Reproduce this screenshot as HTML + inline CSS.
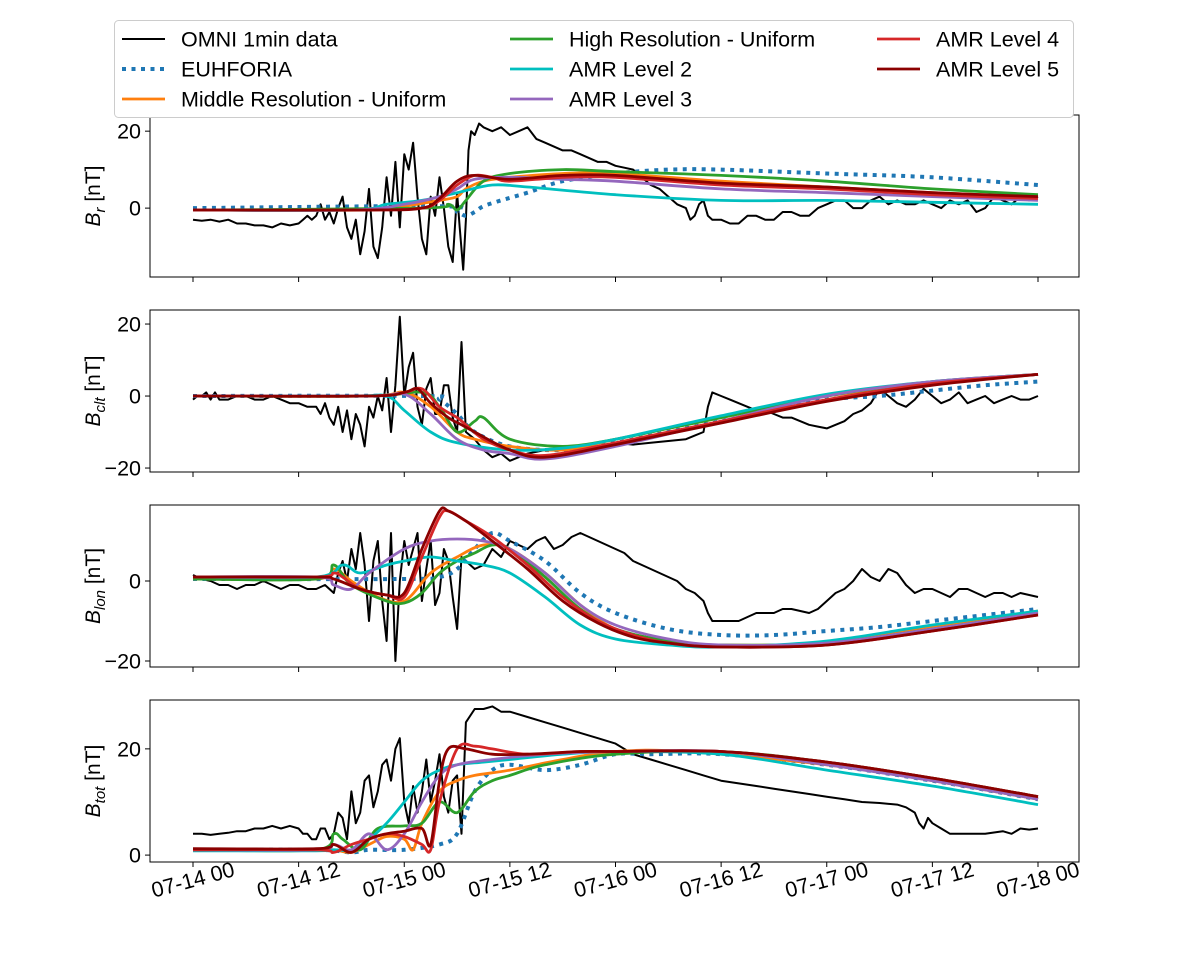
<!DOCTYPE html>
<html><head><meta charset="utf-8">
<style>
body{margin:0;background:#fff;}
svg{display:block;font-family:"Liberation Sans","DejaVu Sans",sans-serif;}
</style></head>
<body>
<svg id="chart" width="1200" height="969" viewBox="0 0 1200 969" xmlns="http://www.w3.org/2000/svg"></svg>
<script>
// ---- data (hours since 07-14 00, value nT) ----
const xTickLabels = ["07-14 00","07-14 12","07-15 00","07-15 12","07-16 00","07-16 12","07-17 00","07-17 12","07-18 00"];
const xTickHours = [0,12,24,36,48,60,72,84,96];
const seriesNames = ["OMNI 1min data","EUHFORIA","Middle Resolution - Uniform","High Resolution - Uniform","AMR Level 2","AMR Level 3","AMR Level 4","AMR Level 5"];

const br_omni=[[0,-3],[1,-3.3],[2,-3],[3,-3.5],[4,-3],[5,-4],[6,-4],[7,-4.5],[8,-4.5],[9,-5],[10,-4],[11,-4.5],[12,-4],[12.5,-3],[13,-2],[13.5,-3],[14,-2],[14.5,1],[15,-3],[15.5,-1],[16,-4],[16.5,0],[17,3],[17.5,-5],[18,-8],[18.5,-3],[19,-12],[19.5,-6],[20,5],[20.5,-10],[21,-13],[21.5,-5],[22,8],[22.5,-2],[23,12],[23.5,-5],[24,14],[24.5,10],[25,17],[25.5,3],[26,-8],[26.5,-12],[27,3],[27.5,-2],[28,8],[28.5,0],[29,-10],[29.5,-14],[30,4],[30.3,-5],[30.7,-16],[31,-3],[31.3,15],[31.6,20],[32,19],[32.5,22],[33,21],[34,20],[35,21],[36,19],[37,20],[38,21],[39,18],[40,17],[41,16],[42,15],[43,15],[44,14],[45,13],[46,12],[47,12],[48,11],[49,10.5],[50,10],[51,8],[52,6],[53,5],[54,3],[55,1],[56,0],[56.5,-3],[57,-2],[57.5,1],[58,2],[58.5,-2],[59,-3],[60,-3],[61,-4],[62,-4],[63,-2],[64,-2],[65,-3],[66,-3],[67,-1],[68,-1],[69,-2],[70,-2],[71,0],[72,1],[73,2],[74,2],[75,0],[76,0],[77,2],[78,3],[79,1],[80,2],[81,1],[82,1],[83,2],[84,1],[85,0],[86,2],[87,1],[88,2],[89,-1],[90,0],[91,3],[92,2],[93,1],[94,3],[95,2],[96,3]];
const br_euh=[[0,0],[28,0.5],[30,-1],[31,-2],[32,-1],[33,0.5],[35,2],[38,4],[42,7],[48,9],[54,10],[60,10],[72,9],[84,8],[96,6]];
const br_mid=[[0,-0.5],[20,-0.5],[24,0.5],[28,2],[30,3],[31,5],[33,7],[36,8],[42,9],[48,9],[60,7],[72,5.5],[84,4],[96,3]];
const br_high=[[0,-0.5],[26,0],[29,1],[30,-0.5],[31,2],[33,7],[36,9],[42,10],[48,9.5],[60,8.5],[72,7],[84,5],[96,3.5]];
const br_amr2=[[0,-0.5],[18,-0.5],[22,1],[26,2],[30,4],[34,6],[38,5.5],[48,3.5],[60,2],[72,2],[84,1.5],[96,1]];
const br_amr3=[[0,-0.5],[18,-0.5],[24,1],[28,3],[30,5],[32,7.5],[36,8],[42,7.5],[48,7],[60,5],[72,4],[84,3],[96,2]];
const br_amr4=[[0,-0.5],[20,-0.5],[26,0],[28,2],[30,6],[32,8.5],[34,8],[36,7],[42,8],[48,8],[60,6],[72,5],[84,3.5],[96,2.5]];
const br_amr5=[[0,-0.5],[20,-0.5],[26,0],[28,2.5],[30,7],[32,8.5],[36,7.5],[42,8.5],[48,8.5],[60,6.5],[72,5.5],[84,4],[96,3]];

const bc_omni=[[0,-1],[0.5,0],[1,0],[1.5,1],[2,-1],[2.5,1],[3,-1],[4,-1],[5,0],[6,0],[7,-1],[8,-1],[9,0],[10,-1],[11,-2],[12,-2],[13,-3],[14,-3],[14.5,-5],[15,-2],[15.5,-6],[16,-8],[16.5,-3],[17,-10],[17.5,-4],[18,-12],[18.5,-5],[19,-8],[19.5,-14],[20,-3],[20.5,-6],[21,0],[21.5,-4],[22,5],[22.5,-10],[23,3],[23.5,22],[24,0],[24.5,8],[25,12],[25.5,-3],[26,-8],[26.5,2],[27,5],[27.5,-5],[28,-5],[28.5,3],[29,3],[29.5,-6],[30,-10],[30.5,15],[31,-10],[32,-12],[33,-15],[34,-17],[35,-16],[36,-18],[37,-17],[38,-16],[40,-15],[42,-15],[44,-14],[46,-14],[48,-13],[50,-13.5],[52,-13],[54,-12.5],[56,-12],[57,-11],[58,-10],[58.5,-3],[59,1],[60,0],[61,-1],[62,-2],[63,-3],[64,-4],[65,-4],[66,-5],[67,-6],[68,-6],[69,-7],[70,-8],[71,-8.5],[72,-9],[73,-8],[74,-7],[75,-5],[76,-4],[77,-2],[78,2],[79,0],[80,-2],[81,-3],[82,-1],[83,2],[84,0],[85,-2],[86,-1],[87,1],[88,-2],[89,-1],[90,0],[91,-2],[92,-1],[93,0],[94,-1],[95,-1],[96,0]];
const bc_euh=[[0,0],[26,0],[28,-1],[30,-5],[32,-10],[36,-14],[42,-15],[48,-13],[54,-10],[60,-7],[66,-4],[72,-1],[78,0],[84,1.5],[90,3],[96,4]];
const bc_mid=[[0,0],[20,0],[24,1],[27,-3],[30,-10],[32,-12],[36,-14],[42,-15],[48,-12],[54,-9],[60,-6],[66,-3],[72,0],[84,3.5],[96,6]];
const bc_high=[[0,0],[20,0],[26,1],[28,-3],[30,-10],[32,-7],[33,-6],[36,-12],[42,-14],[48,-12],[54,-9],[60,-6],[72,0],[84,4],[96,6]];
const bc_amr2=[[0,0],[18,0],[22,0],[24,-4],[27,-10],[30,-13],[36,-15],[42,-14.5],[48,-12],[60,-5.5],[72,0.5],[84,4],[96,6]];
const bc_amr3=[[0,0],[20,0],[24,0.5],[27,-5],[30,-12],[33,-15],[36,-16],[40,-17.5],[48,-14],[60,-7],[72,0],[84,4],[96,6]];
const bc_amr4=[[0,0],[20,0],[24,1],[26,2],[28,-3],[30,-6],[31,-8],[33,-12],[36,-15],[40,-16.5],[48,-13],[60,-7],[72,-1],[84,3.5],[96,6]];
const bc_amr5=[[0,0],[20,0],[24,1],[25.5,2],[27,-2],[29,-6],[30.5,-8],[32,-10],[36,-15],[40,-17],[48,-13.5],[60,-7.5],[72,-1.5],[84,3],[96,6]];

const bl_omni=[[0,1.5],[1,0.5],[2,0],[3,-1],[4,-1],[5,-2],[6,-1],[7,-1],[8,0],[9,-1],[10,-2],[11,-1],[12,-1],[13,-2],[14,-2],[15,-1],[16,-3],[16.5,2],[17,5],[17.5,0],[18,8],[18.5,3],[19,12],[19.5,4],[20,-10],[20.5,5],[21,10],[21.5,-5],[22,-15],[22.5,12],[23,-20],[23.5,0],[24,10],[24.5,4],[25,8],[25.5,12],[26,-5],[26.5,3],[27,10],[27.5,-6],[28,-3],[28.5,8],[29,5],[29.5,-4],[30,-12],[30.5,6],[31,5],[32,3],[33,4],[34,8],[35,6],[36,10],[37,9],[38,8],[39,10],[40,11],[41,8],[42,9],[43,11],[44,12],[45,11],[46,10],[47,9],[48,8],[49,7],[50,5],[51,4],[52,3],[53,2],[54,1],[55,0],[56,-2],[57,-3],[58,-5],[58.5,-8],[59,-10],[60,-10],[61,-10],[62,-10],[63,-9],[64,-8],[65,-8],[66,-8],[67,-7],[68,-7],[69,-7.5],[70,-8],[71,-7],[72,-5],[73,-3],[74,-2],[75,0],[76,3],[77,1],[78,0],[79,3],[80,2],[81,-1],[82,-3],[83,-2],[84,-2],[85,-3],[86,-4],[87,-2],[88,-2],[89,-3],[90,-4],[91,-3],[92,-3],[93,-4],[94,-3],[95,-3.5],[96,-4]];
const bl_euh=[[0,0.5],[24,0.5],[28,1],[30,3],[32,8],[34,12],[36,10],[40,5],[44,-3],[48,-8],[54,-12],[60,-13.5],[66,-13.5],[72,-12.5],[78,-11.5],[84,-10],[90,-8.5],[96,-7]];
const bl_mid=[[0,0.5],[14,0.5],[16,3],[18,0],[21,-4],[24,-5],[27,2],[30,6],[33,9],[36,8],[40,2],[44,-6],[48,-12],[54,-15],[60,-16],[72,-15.5],[84,-11.5],[96,-7.5]];
const bl_high=[[0,0.5],[14,0.5],[16,4],[18,-1],[22,-5],[24,-5.5],[26,-3],[28,2],[30,5],[32,7],[34,9],[36,8],[40,1],[44,-7],[48,-12],[54,-15],[60,-16],[72,-15.5],[84,-12],[96,-8]];
const bl_amr2=[[0,1],[14,1],[17,4],[19,2],[22,4],[24,5],[27,6],[30,5],[33,4],[36,2],[40,-4],[44,-11],[48,-14.5],[54,-16],[60,-16.5],[72,-15],[84,-11],[96,-7.5]];
const bl_amr3=[[0,1],[14,1],[16,-1],[18,-2],[20,2],[24,8],[27,10],[30,10.5],[33,10],[36,8],[40,2],[44,-6],[48,-11],[54,-14.5],[60,-16],[72,-15.5],[84,-12],[96,-8]];
const bl_amr4=[[0,1],[14,1],[16,2],[17,1],[19,-2],[22,-3.5],[24,-4],[26,6],[28,16],[29,17.5],[31,15],[34,11],[38,4],[42,-4],[46,-10],[50,-13.5],[54,-15.5],[60,-16.5],[72,-16],[84,-12.5],[96,-8.5]];
const bl_amr5=[[0,1],[14,1],[16,0.5],[19,-2],[22,-3.5],[24,-3],[26,8],[28,17.5],[29,17.5],[31,15],[34,10],[38,3],[42,-5],[46,-10.5],[50,-14],[54,-15.5],[60,-16.5],[72,-16],[84,-12.5],[96,-8.5]];

const bt_omni=[[0,4],[1,4],[2,3.8],[3,4],[4,4.2],[5,4.5],[6,4.5],[7,5],[8,5],[9,5.5],[10,5],[11,5.5],[12,5],[12.5,4],[13,4],[13.5,3],[14,3],[14.5,5],[15,5],[15.5,3],[16,4],[16.5,8],[17,7],[17.5,3],[18,12],[18.5,6],[19,8],[19.5,14],[20,15],[20.5,9],[21,12],[21.5,17],[22,18],[22.5,14],[23,20],[23.5,22],[24,10],[24.5,6],[25,13],[25.5,8],[26,12],[26.5,18],[27,10],[27.5,14],[28,19],[28.5,11],[29,8],[29.5,14],[30,15],[30.5,4],[31,25],[32,27.5],[33,27.5],[34,28],[35,27],[36,27],[38,26],[40,25],[42,24],[44,23],[46,22],[48,21],[50,19],[52,18],[54,17],[56,16],[58,15],[60,14],[62,13.5],[64,13],[66,12.5],[68,12],[70,11.5],[72,11],[74,10.5],[76,10],[78,9.8],[80,9.5],[81,9],[82,8],[82.5,6],[83,5],[83.5,7],[84,6],[85,5],[86,4],[87,4],[88,4],[90,4],[92,4.5],[93,4],[94,5],[95,4.8],[96,5]];
const bt_euh=[[0,1],[14,1],[18,0.5],[20,1],[24,1],[28,2],[30,4],[32,12],[34,16],[36,17],[40,16],[44,17],[48,19],[52,19],[60,19],[72,17],[84,14],[96,10.5]];
const bt_mid=[[0,1],[14,1],[16,1],[18,0.5],[20,2],[22,3.5],[24,3],[25,1],[26,6],[28,12],[30,14],[32,15],[36,16],[42,18],[48,19.5],[56,19.5],[72,17],[84,14],[96,10.5]];
const bt_high=[[0,1],[14,1],[16,4],[17,3],[19,1],[21,5],[24,5.5],[26,6],[28,10],[30,8],[32,12],[34,14],[36,15],[40,17],[48,19],[60,19.5],[72,17.5],[84,14.5],[96,11]];
const bt_amr2=[[0,0.8],[14,0.8],[16,1],[18,1],[20,3],[22,6],[24,10],[26,14],[28,16],[30,17],[33,17.5],[36,18],[42,19],[48,19.5],[60,19],[72,16],[84,13],[96,9.5]];
const bt_amr3=[[0,1],[14,1],[16,2],[18,1],[20,4],[22,1],[24,4],[26,10],[28,15],[30,17],[34,18],[40,19],[48,19.5],[60,19.5],[72,17],[84,14],[96,10.5]];
const bt_amr4=[[0,1],[14,1],[16,0.5],[18,2],[20,3],[22,4],[24,3.5],[26,2],[27,1],[28,10],[30,20],[32,20.5],[34,20],[38,19],[44,19.5],[48,19.5],[60,19.5],[72,17.5],[84,14.5],[96,11]];
const bt_amr5=[[0,1.2],[14,1.2],[16,2],[18,0.5],[20,3],[22,4],[24,4.5],[26,5],[27,2],[28,14],[29,20],[31,20],[34,19],[38,19],[44,19.5],[48,19.5],[60,19.5],[72,17.5],[84,14.5],[96,11]];

// ---- layout ----
const NS="http://www.w3.org/2000/svg";
const svg=document.getElementById('chart');
const X0=150,X1=1079;
function xs(h){return 193+h*(1038-193)/96;}
const panels=[
 {name:'br',top:115,bot:277,vmin:-17.9,vmax:24.2,ticks:[0,20],label:'B',sub:'r',series:[br_omni,br_euh,br_mid,br_high,br_amr2,br_amr3,br_amr4,br_amr5]},
 {name:'bclt',top:310,bot:472,vmin:-21.1,vmax:23.9,ticks:[-20,0,20],label:'B',sub:'clt',series:[bc_omni,bc_euh,bc_mid,bc_high,bc_amr2,bc_amr3,bc_amr4,bc_amr5]},
 {name:'blon',top:505,bot:667,vmin:-21.5,vmax:19,ticks:[-20,0],label:'B',sub:'lon',series:[bl_omni,bl_euh,bl_mid,bl_high,bl_amr2,bl_amr3,bl_amr4,bl_amr5]},
 {name:'btot',top:700,bot:862,vmin:-1.3,vmax:29.2,ticks:[0,20],label:'B',sub:'tot',series:[bt_omni,bt_euh,bt_mid,bt_high,bt_amr2,bt_amr3,bt_amr4,bt_amr5]}
];
const styles=[
 {c:'#000000',w:2,d:null,k:'omni'},
 {c:'#1f77b4',w:4,d:'4,5.5',k:'euhforia'},
 {c:'#ff7f0e',w:2.8,d:null,k:'middle-res'},
 {c:'#2ca02c',w:2.8,d:null,k:'high-res'},
 {c:'#00bfbf',w:2.8,d:null,k:'amr-level-2'},
 {c:'#9467bd',w:2.8,d:null,k:'amr-level-3'},
 {c:'#d62728',w:2.8,d:null,k:'amr-level-4'},
 {c:'#8b0000',w:2.8,d:null,k:'amr-level-5'}
];
function el(t,a,p){const e=document.createElementNS(NS,t);for(const k in a)e.setAttribute(k,a[k]);(p||svg).appendChild(e);return e;}
function smoothPath(pts){
 let d='M'+pts[0][0].toFixed(1)+','+pts[0][1].toFixed(1);
 for(let i=0;i<pts.length-1;i++){
  const p0=pts[Math.max(0,i-1)],p1=pts[i],p2=pts[i+1],p3=pts[Math.min(pts.length-1,i+2)];
  const c1x=p1[0]+(p2[0]-p0[0])/6,c1y=p1[1]+(p2[1]-p0[1])/6;
  const c2x=p2[0]-(p3[0]-p1[0])/6,c2y=p2[1]-(p3[1]-p1[1])/6;
  d+=' C'+c1x.toFixed(1)+','+c1y.toFixed(1)+' '+c2x.toFixed(1)+','+c2y.toFixed(1)+' '+p2[0].toFixed(1)+','+p2[1].toFixed(1);
 }
 return d;
}
const defs=el('defs',{});
panels.forEach((p,pi)=>{
 const ys=v=>p.bot-(v-p.vmin)/(p.vmax-p.vmin)*(p.bot-p.top);
 const cp=el('clipPath',{id:'clip'+pi},defs);
 el('rect',{x:X0,y:p.top,width:X1-X0,height:p.bot-p.top},cp);
 const g=el('g',{});
 
 
 const lg=el('g',{'clip-path':'url(#clip'+pi+')'},g);
 p.series.forEach((s,si)=>{
  const st=styles[si];
  const pts=s.map(q=>[xs(q[0]),ys(q[1])]);
  const d=si===0?('M'+pts.map(q=>q[0].toFixed(1)+','+q[1].toFixed(1)).join(' L')):smoothPath(pts);
  const path=el('path',{d:d,fill:'none',stroke:st.c,'stroke-width':st.w,'stroke-linejoin':'round'},lg);
  if(st.d)path.setAttribute('stroke-dasharray',st.d);
  
  
 });
 const fr=el('rect',{x:X0,y:p.top,width:X1-X0,height:p.bot-p.top,fill:'none',stroke:'#000','stroke-width':1},g);
 
 
 p.ticks.forEach(t=>{
  const y=ys(t);
  el('line',{x1:X0-5,x2:X0,y1:y,y2:y,stroke:'#000'},g);
  const tx=el('text',{x:X0-9,y:y+7.5,'text-anchor':'end','font-size':21.5},g);
  tx.textContent=(t<0?'\u2212':'')+Math.abs(t);
  
  
 });
 xTickHours.forEach((h,i)=>{
  el('line',{x1:xs(h),x2:xs(h),y1:p.bot,y2:p.bot+5,stroke:'#000'},g);
  if(pi===3){
   const cx=xs(h),cy=p.bot+18;
   const tx=el('text',{x:cx,y:cy+7,'text-anchor':'middle','font-size':21.5,transform:'rotate(-15 '+cx+' '+cy+')'},g);
   tx.textContent=xTickLabels[i];
   
   
  }
 });
 const cy=(p.top+p.bot)/2;
 const yl=el('text',{x:100,y:cy,'text-anchor':'middle','font-size':21,transform:'rotate(-90 100 '+cy+')'},g);
 yl.innerHTML='<tspan font-style="italic">'+p.label+'</tspan><tspan font-style="italic" font-size="15" dy="5">'+p.sub+'</tspan><tspan dy="-5"> [nT]</tspan>';
 
 
});
// legend
const lg=el('g',{});


el('rect',{x:114.5,y:20.5,width:959,height:97,rx:4,fill:'#fff',stroke:'#ccc'},lg);
const lpos=[[122,39],[122,69],[122,99],[510,39],[510,69],[510,99],[877,39],[877,69]];
seriesNames.forEach((n,i)=>{
 const [x,y]=lpos[i];const st=styles[i];
 const ln=el('line',{x1:x,x2:x+43,y1:y,y2:y,stroke:st.c,'stroke-width':st.w},lg);
 if(st.d)ln.setAttribute('stroke-dasharray',st.d);
 
 
 const t=el('text',{x:x+59,y:y+7.5,'font-size':21.5},lg);
 t.textContent=n;
 
 
});
</script>
</body></html>
